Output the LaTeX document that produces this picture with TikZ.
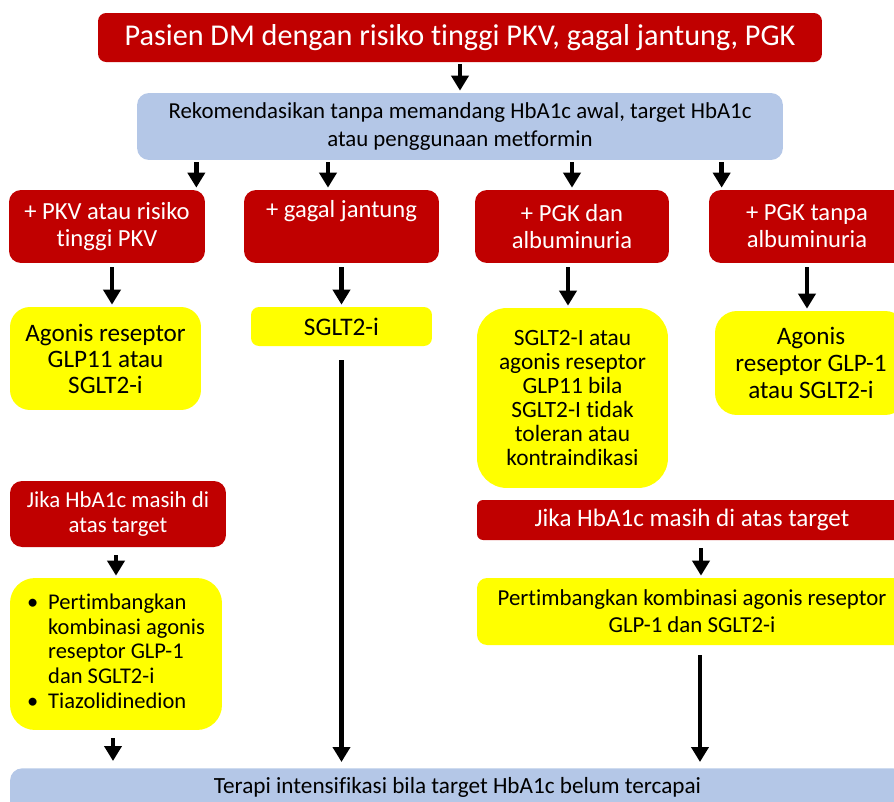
\documentclass[tikz,border=0pt]{standalone}
\usepackage{fontspec}
\setmainfont{Carlito}[Ligatures={NoCommon,NoRequired,NoContextual}]
\usetikzlibrary{arrows.meta}
\definecolor{merah}{HTML}{C00000}
\definecolor{biru}{HTML}{B4C7E7}
\definecolor{kuning}{HTML}{FFFF00}

\begin{document}
\begin{tikzpicture}[x=0.02cm, y=-0.02cm,
                    kotak/.style={rounded corners=0.24cm, align=center, inner sep=2pt},
                    merahbox/.style={kotak, fill=merah, text=white, minimum height=1.46cm, font=\fontsize{14}{15.3}\selectfont},
                    kuningbox/.style={kotak, fill=kuning, rounded corners=0.4cm, font=\fontsize{14.3}{14.8}\selectfont},
                    birubox/.style={kotak, fill=biru, font=\fontsize{13}{15.9}\selectfont},
                    panah/.style={-{Triangle[width=0.34cm,length=0.3cm]}, line width=2.8pt, shorten <=0.04cm, shorten >=0.04cm}
                ]
                \path[use as bounding box, clip] (0,0) rectangle (894,802);

                \node[merahbox, minimum width=14.48cm, minimum height=0.98cm, rounded corners=0.16cm, font=\fontsize{17.2}{20}\selectfont] (pasien) at (460,37.5) {Pasien DM dengan risiko tinggi PKV, gagal jantung, PGK};
                \node[birubox, minimum width=12.92cm, minimum height=1.34cm] (rekom) at (460,126.5) {Rekomendasikan tanpa memandang HbA1c awal, target HbA1c\\ atau penggunaan metformin};

                % kondisi penyerta
                \node[merahbox, minimum width=3.92cm] (pkv) at (107,226.5) {+ PKV atau risiko\\ tinggi PKV};
                \node[merahbox, minimum width=3.9cm] (gagal) at (341.5,226.5) {+ gagal jantung\\ \strut};
                \node[merahbox, minimum width=3.88cm] (pgkalb) at (572,226.5) {+ PGK dan\\ albuminuria};
                \node[merahbox, minimum width=3.92cm] (pgktanpa) at (807,226.5) {+ PGK tanpa\\ albuminuria};

                \node[kuningbox, minimum width=3.82cm, minimum height=2.06cm] (glpA) at (105.5,358.5) {Agonis reseptor\\ GLP11 atau\\ SGLT2-i};
                \node[kuningbox, minimum width=3.62cm, minimum height=0.78cm, rounded corners=0.16cm, font=\fontsize{14.4}{16}\selectfont] (sglt) at (341.5,326.5) {SGLT2-i};
                \node[kuningbox, minimum width=3.82cm, minimum height=3.6cm, rounded corners=0.6cm, font=\fontsize{13.3}{13.6}\selectfont] (sgltC) at (572.5,398) {SGLT2-I atau\\ agonis reseptor\\ GLP11 bila\\ SGLT2-I tidak\\ toleran atau\\ kontraindikasi};
                \node[kuningbox, minimum width=3.84cm, minimum height=2.08cm, rounded corners=0.44cm, font=\fontsize{14.3}{15.6}\selectfont] (glpD) at (811,363) {Agonis\\ reseptor GLP-1\\ atau SGLT2-i};

                % bila HbA1c belum tercapai
                \node[merahbox, minimum width=4.32cm, minimum height=1.32cm, font=\fontsize{13}{14.2}\selectfont] (jikaL) at (118,514) {Jika HbA1c masih di\\ atas target};
                \node[merahbox, minimum width=8.6cm, minimum height=0.8cm, rounded corners=0.12cm, font=\fontsize{14.3}{15.5}\selectfont] (jikaR) at (692,520) {Jika HbA1c masih di atas target};
                \node[kuningbox, minimum width=4.24cm, minimum height=3.04cm, rounded corners=0.5cm, font=\fontsize{12.8}{14.2}\selectfont] (pertL) at (116,654)
                    {\begin{tabular}{@{}l@{\hspace{0.2cm}}l@{}}
                     \textbullet & Pertimbangkan\\
                                 & kombinasi agonis\\
                                 & reseptor GLP-1\\
                                 & dan SGLT2-i\\
                     \textbullet & Tiazolidinedion
                     \end{tabular}};
                \node[kuningbox, minimum width=8.6cm, minimum height=1.34cm, rounded corners=0.2cm, font=\fontsize{13}{15.3}\selectfont] (pertR) at (692,611.5) {Pertimbangkan kombinasi agonis reseptor\\ GLP-1 dan SGLT2-i};

                \node[birubox, anchor=north, minimum width=17.9cm, inner ysep=0pt, text height=0.5cm, text depth=0.75cm, font=\fontsize{13.2}{15}\selectfont] (terapi) at (457.5,768) {Terapi intensifikasi bila target HbA1c belum tercapai};

                % panah
                \draw[panah] (pasien.south) -- (rekom.north);
                \draw[panah] ([xshift=-0.18cm]pkv.north east |- rekom.south) -- ([xshift=-0.18cm]pkv.north east);
                \draw[panah] ([xshift=-0.27cm]gagal.north |- rekom.south) -- ([xshift=-0.27cm]gagal.north);
                \draw[panah] (pgkalb.north |- rekom.south) -- (pgkalb.north);
                \draw[panah] ([xshift=0.26cm]pgktanpa.north west |- rekom.south) -- ([xshift=0.26cm]pgktanpa.north west);

                \draw[panah, shorten <=0.08cm] ([xshift=0.1cm]pkv.south) -- ([xshift=0.1cm]pkv.south |- glpA.north);
                \draw[panah, shorten <=0.08cm] (gagal.south) -- (gagal.south |- sglt.north);
                \draw[panah, shorten <=0.08cm] ([xshift=-0.08cm]pgkalb.south) -- ([xshift=-0.08cm]pgkalb.south |- sgltC.north);
                \draw[panah, shorten <=0.08cm] (pgktanpa.south) -- (pgktanpa.south |- glpD.north);

                \draw[panah, shorten <=0.16cm] (pertL.north |- jikaL.south) -- (pertL.north);
                \draw[panah, shorten <=0.16cm] ([xshift=0.18cm]jikaR.south) -- ([xshift=0.18cm]jikaR.south |- pertR.north);

                \draw[panah, shorten <=0.28cm, shorten >=0.12cm] (sglt.south) -- (sglt.south |- terapi.north);
                \draw[panah, shorten <=0.16cm, shorten >=0.14cm] ([xshift=-0.06cm]pertL.south) -- ([xshift=-0.06cm]pertL.south |- terapi.north);
                \draw[panah, shorten <=0.2cm, shorten >=0.12cm] ([xshift=0.16cm]pertR.south) -- ([xshift=0.16cm]pertR.south |- terapi.north);
                \end{tikzpicture}
\end{document}
